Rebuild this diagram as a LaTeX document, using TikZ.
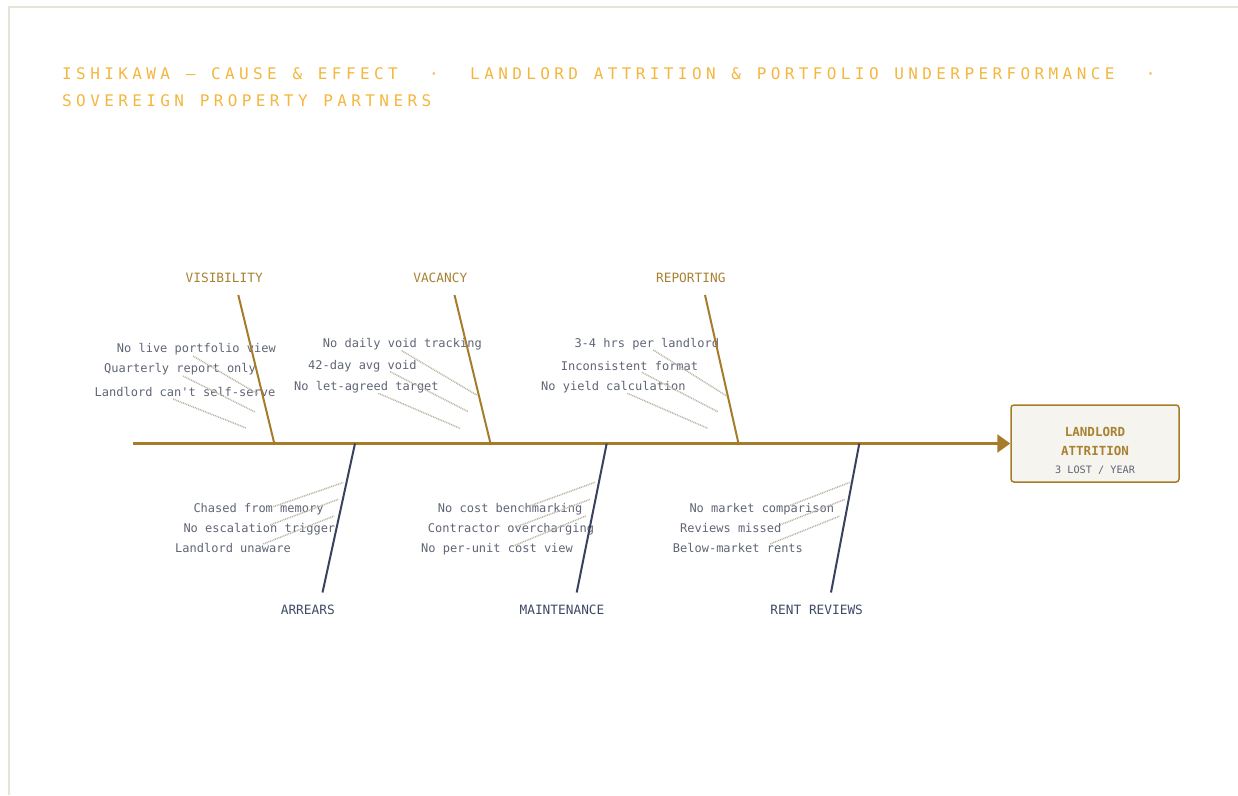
\documentclass[tikz,border=0pt]{standalone}
\usepackage{fontspec}
\setmainfont{DejaVu Sans}
\newfontfamily\monof{DejaVu Sans Mono}
\newfontfamily\titlef[LetterSpace=27.5,WordSpace=1.12]{DejaVu Sans Mono}
\usetikzlibrary{arrows.meta}
\definecolor{goldc}{HTML}{A67C2A}
\definecolor{goldtxt}{HTML}{A88232}
\definecolor{navyc}{HTML}{38425E}
\definecolor{navytxt}{HTML}{3F4A66}
\definecolor{subtxt}{HTML}{5F6575}
\definecolor{dotc}{HTML}{BDB6A7}
\definecolor{titlec}{HTML}{F4B63E}
\definecolor{framec}{HTML}{E7E3D7}
\definecolor{boxfill}{HTML}{F6F4EF}
\begin{document}
\begin{tikzpicture}[x=1pt,y=-1pt,
  subtext/.style={anchor=mid west,inner sep=0pt,text=subtxt,font=\monof\fontsize{12}{14}\selectfont},
  toplabel/.style={anchor=center,inner sep=0pt,text=goldtxt,font=\monof\fontsize{12.8}{15}\selectfont},
  botlabel/.style={anchor=center,inner sep=0pt,text=navytxt,font=\monof\fontsize{12.8}{15}\selectfont},
  topbone/.style={draw=goldc,line width=2pt},
  botbone/.style={draw=navyc,line width=2pt},
  subline/.style={draw=dotc,line width=1.5pt,dash pattern=on 1pt off 0.8pt},
  titletext/.style={anchor=mid west,inner sep=0pt,text=titlec,font=\titlef\fontsize{16}{19}\selectfont}]
\useasboundingbox (0,0) rectangle (1238,795);
% frame
\draw[framec,line width=2pt] (9,795) -- (9,7) -- (1238,7);
% title
\node[titletext] (title1) at (62,77) {ISHIKAWA — CAUSE \& EFFECT\ \ ·\ \ LANDLORD ATTRITION \& PORTFOLIO UNDERPERFORMANCE\ \ ·};
\node[titletext] (title2) at (62,104) {SOVEREIGN PROPERTY PARTNERS};
% effect box
\node[draw=goldc,fill=boxfill,line width=1.5pt,rounded corners=3pt,minimum width=168pt,minimum height=77pt,inner sep=0pt] (effect) at (1095,443.5) {};
\node[inner sep=0pt,text=goldtxt,font=\monof\bfseries\fontsize{12.5}{15}\selectfont] (eff1) at (1095,431.5) {LANDLORD};
\node[inner sep=0pt,text=goldtxt,font=\monof\bfseries\fontsize{12.5}{15}\selectfont] (eff2) at (1095,451) {ATTRITION};
\node[inner sep=0pt,text=subtxt,font=\monof\fontsize{10.2}{12}\selectfont] (eff3) at (1095,470.5) {3 LOST / YEAR};
% spine
\coordinate (tail) at (133,443.5);
\draw[goldc,line width=2.4pt,-{Triangle[length=13pt,width=18pt]}] (tail) -- (effect.west);
% sub-cause texts (top)
\node[subtext] (v1) at (116.7,350) {No live portfolio view};
\node[subtext] (v2) at (104,370) {Quarterly report only};
\node[subtext] (v3) at (94.5,394) {Landlord can\char"27 t self-serve};
\node[subtext] (c1) at (322.7,345) {No daily void tracking};
\node[subtext] (c2) at (308,367) {42-day avg void};
\node[subtext] (c3) at (294,388) {No let-agreed target};
\node[subtext] (r1) at (574.3,344.7) {3-4 hrs per landlord};
\node[subtext] (r2) at (560.7,367.3) {Inconsistent format};
\node[subtext] (r3) at (541,388) {No yield calculation};
% sub-cause texts (bottom)
\node[subtext] (a1) at (193.3,510) {Chased from memory};
\node[subtext] (a2) at (183.3,530) {No escalation trigger};
\node[subtext] (a3) at (175,549.5) {Landlord unaware};
\node[subtext] (m1) at (437.7,510) {No cost benchmarking};
\node[subtext] (m2) at (427.7,530) {Contractor overcharging};
\node[subtext] (m3) at (421,549.5) {No per-unit cost view};
\node[subtext] (n1) at (689.3,510) {No market comparison};
\node[subtext] (n2) at (680,530) {Reviews missed};
\node[subtext] (n3) at (672.7,549.5) {Below-market rents};
% sub-cause lines
\coordinate (v1s) at (193,356);   \coordinate (v1e) at (258,394);
\coordinate (v2s) at (183,376);   \coordinate (v2e) at (255,412);
\coordinate (v3s) at (173,399);   \coordinate (v3e) at (246,428);
\coordinate (c1s) at (401.7,350.7); \coordinate (c1e) at (476.7,395);
\coordinate (c2s) at (390,371.7);   \coordinate (c2e) at (468.3,411.7);
\coordinate (c3s) at (378.3,393.3); \coordinate (c3e) at (460,428.3);
\coordinate (r1s) at (653.3,350);   \coordinate (r1e) at (726.7,396);
\coordinate (r2s) at (641.7,372.3); \coordinate (r2e) at (717.7,411.7);
\coordinate (r3s) at (627.3,393.3); \coordinate (r3e) at (707.7,428.3);
\coordinate (a1s) at (273.3,506.7); \coordinate (a1e) at (343.3,482.5);
\coordinate (a2s) at (270,525);     \coordinate (a2e) at (338.3,499.3);
\coordinate (a3s) at (263.3,544);   \coordinate (a3e) at (334,516);
\coordinate (m1s) at (523.3,508.3); \coordinate (m1e) at (595,482.3);
\coordinate (m2s) at (515,527.3);   \coordinate (m2e) at (590,499.3);
\coordinate (m3s) at (513.3,546);   \coordinate (m3e) at (585.7,516);
\coordinate (n1s) at (786.7,506.7); \coordinate (n1e) at (850,482.3);
\coordinate (n2s) at (780,525);     \coordinate (n2e) at (845,499.3);
\coordinate (n3s) at (770,544);     \coordinate (n3e) at (840,516);
\foreach \p in {v1,v2,v3,c1,c2,c3,r1,r2,r3,a1,a2,a3,m1,m2,m3,n1,n2,n3}
  \draw[subline] (\p s) -- (\p e);
% bones
\coordinate (visT) at (238.3,295);  \coordinate (visB) at (274.3,443.5);
\coordinate (vacT) at (454.5,295);  \coordinate (vacB) at (490.5,443.5);
\coordinate (repT) at (705,295);    \coordinate (repB) at (738.5,443.5);
\coordinate (arrT) at (355,443.5);  \coordinate (arrB) at (322.5,592.5);
\coordinate (mntT) at (606.7,443.5); \coordinate (mntB) at (576.7,592.5);
\coordinate (rntT) at (859.3,443.5); \coordinate (rntB) at (831,592.5);
\draw[topbone] (visT) -- (visB);
\draw[topbone] (vacT) -- (vacB);
\draw[topbone] (repT) -- (repB);
\draw[botbone] (arrT) -- (arrB);
\draw[botbone] (mntT) -- (mntB);
\draw[botbone] (rntT) -- (rntB);
% labels
\node[toplabel] (visL) at (224.2,278.3) {VISIBILITY};
\node[toplabel] (vacL) at (440.3,278.3) {VACANCY};
\node[toplabel] (repL) at (690.8,278.3) {REPORTING};
\node[botlabel] (arrL) at (307.8,610.3) {ARREARS};
\node[botlabel] (mntL) at (562,610.3) {MAINTENANCE};
\node[botlabel] (rntL) at (816.7,610.3) {RENT REVIEWS};
\end{tikzpicture}
\end{document}
